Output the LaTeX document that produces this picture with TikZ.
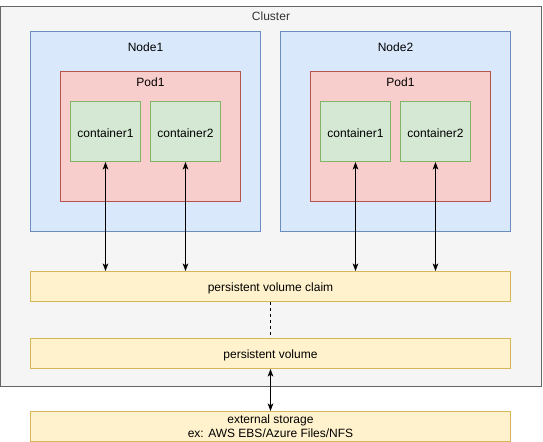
\documentclass[tikz,border=0pt]{standalone}
\usepackage{fontspec}
\setmainfont{Liberation Sans}
\usetikzlibrary{arrows.meta}
\definecolor{clfill}{HTML}{F5F5F5}
\definecolor{cldraw}{HTML}{666666}
\definecolor{cltext}{HTML}{333333}
\definecolor{ndfill}{HTML}{DAE8FC}
\definecolor{nddraw}{HTML}{6C8EBF}
\definecolor{pdfill}{HTML}{F8CECC}
\definecolor{pddraw}{HTML}{B85450}
\definecolor{ctfill}{HTML}{D5E8D4}
\definecolor{ctdraw}{HTML}{82B366}
\definecolor{ylfill}{HTML}{FFF2CC}
\definecolor{yldraw}{HTML}{D6B656}
\begin{document}
\begin{tikzpicture}[x=0.75pt,y=-0.75pt,
  font=\fontsize{9}{10}\selectfont,
  box/.style={draw, line width=0.75pt, inner sep=0pt, align=center},
  clusterbox/.style={box, fill=clfill, draw=cldraw},
  nodebox/.style={box, fill=ndfill, draw=nddraw},
  podbox/.style={box, fill=pdfill, draw=pddraw},
  contbox/.style={box, fill=ctfill, draw=ctdraw, minimum width=70*0.75pt, minimum height=60*0.75pt, text height=9pt, text depth=0pt},
  volbox/.style={box, fill=ylfill, draw=yldraw, minimum width=480*0.75pt, minimum height=30*0.75pt, text height=7.6pt, text depth=0pt},
  arr/.style={line width=0.75pt, {Stealth[length=5.6pt,width=4.2pt,inset=1.3pt]}-{Stealth[length=5.6pt,width=4.2pt,inset=1.3pt]}},
  dashline/.style={line width=0.75pt, dash pattern=on 2.25pt off 2.25pt}
]
\useasboundingbox (0,0) rectangle (543,442);
\node[clusterbox, minimum width=541*0.75pt, minimum height=380*0.75pt,
  label={[anchor=center, yshift=-10.5*0.75pt, text=cltext]north:Cluster}] (cluster) at (271,196.5) {};
\node[nodebox, minimum width=230*0.75pt, minimum height=200*0.75pt,
  label={[anchor=center, yshift=-16*0.75pt]north:Node1}] (node1) at (145.5,131.5) {};
\node[nodebox, minimum width=230*0.75pt, minimum height=200*0.75pt,
  label={[anchor=center, yshift=-16*0.75pt]north:Node2}] (node2) at (395.5,131.5) {};
\node[podbox, minimum width=180*0.75pt, minimum height=130*0.75pt,
  label={[anchor=center, yshift=-11.5*0.75pt]north:Pod1}] (pod1) at (150.5,136.5) {};
\node[podbox, minimum width=180*0.75pt, minimum height=130*0.75pt,
  label={[anchor=center, yshift=-11.5*0.75pt]north:Pod1}] (pod2) at (400.5,136.5) {};
\node[contbox] (c1) at (105.5,131.5) {container1};
\node[contbox] (c2) at (185.5,131.5) {container2};
\node[contbox] (c3) at (355.5,131.5) {container1};
\node[contbox] (c4) at (435.5,131.5) {container2};
\node[volbox] (pvc) at (270.5,286.5) {persistent volume claim};
\node[volbox] (pv) at (270.5,353.5) {persistent volume};
\node[volbox, text height=16.2pt] (ext) at (270.5,426.5) {external storage\\ex: AWS EBS/Azure Files/NFS};
\foreach \c in {c1,c2,c3,c4}{
  \draw[arr] (\c.south) -- (\c.south |- pvc.north);
}
\draw[dashline] (pvc.south) -- (pv.north);
\draw[arr] (pv.south) -- (ext.north);
\end{tikzpicture}
\end{document}
